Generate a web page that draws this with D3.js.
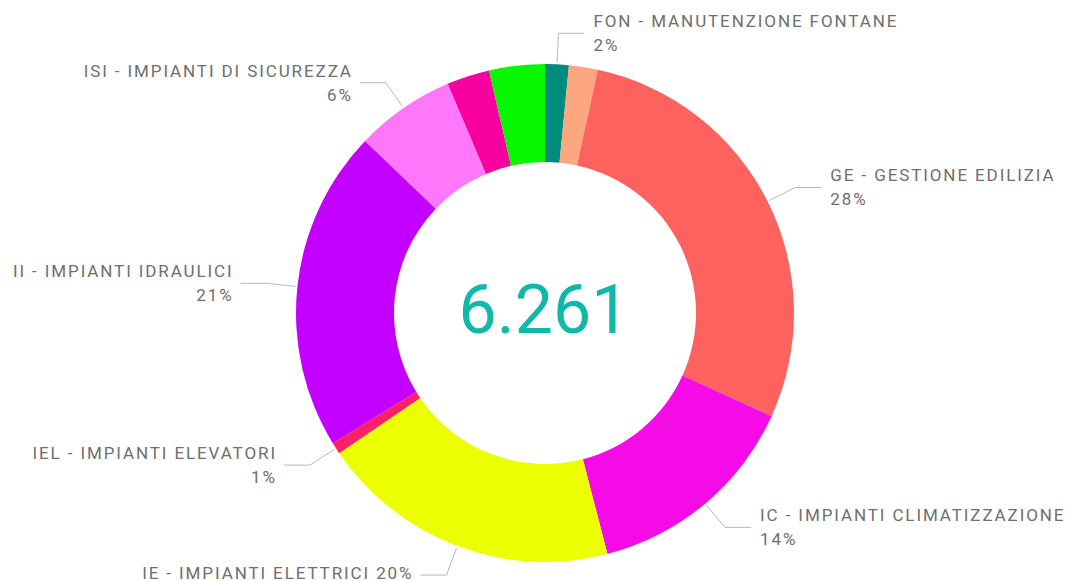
<!DOCTYPE html>
<html>
<head>
<meta charset="utf-8">
<script src="https://cdn.jsdelivr.net/npm/d3@7/dist/d3.min.js"></script>
<style>
  body { margin: 0; background: #fff; }
  #donut text { font-family: Roboto, "Noto Sans", sans-serif; }
</style>
</head>
<body>
<div id="donut"></div>
<script>
// categories, clockwise from 12 o'clock; empty label = slice too small for a label
var categories = ["FON - MANUTENZIONE FONTANE", "", "GE - GESTIONE EDILIZIA", "IC - IMPIANTI CLIMATIZZAZIONE",
                  "IE - IMPIANTI ELETTRICI", "IEL - IMPIANTI ELEVATORI", "II - IMPIANTI IDRAULICI",
                  "ISI - IMPIANTI DI SICUREZZA", "", ""];
var values = [96, 117, 1778, 887, 1222, 47, 1309, 405, 174, 226];
var colors = ["#008b7d", "#fda680", "#fd625e", "#f40be6", "#ebff00", "#fe2067", "#c300ff",
              "#ff77fb", "#f7009f", "#08f700"];

var width = 1067, height = 581;
var cx = 545, cy = 313;
var outerR = 249, innerR = 151;

var svg = d3.select("#donut")
    .append("svg")
    .attr("width", width)
    .attr("height", height);

var g = svg.append("g")
    .attr("transform", "translate(" + cx + "," + cy + ")");

var rows = categories.map(function(c, i) { return { name: c, value: values[i], color: colors[i] }; });
var total = d3.sum(values);

var pie = d3.pie()
    .sort(null)
    .value(function(d) { return d.value; });

var arc = d3.arc()
    .innerRadius(innerR)
    .outerRadius(outerR);

var arcs = pie(rows);

g.selectAll("path.slice")
    .data(arcs)
    .enter()
    .append("path")
    .attr("class", "slice")
    .attr("d", arc)
    .attr("fill", function(d) { return d.data.color; });

// point at radius r along the middle of a slice
function polar(r, a) {
    return [r * Math.sin(a), -r * Math.cos(a)];
}

var lineLen = 26, textGap = 9;

var labelled = arcs.filter(function(d) { return d.data.name !== ""; });

labelled.forEach(function(d) {
    var mid = (d.startAngle + d.endAngle) / 2;
    var right = mid < Math.PI;
    var p0 = polar(outerR + 2, mid);
    var p1 = polar(outerR + 31, mid);
    var p2 = [p1[0] + (right ? lineLen : -lineLen), p1[1]];

    g.append("polyline")
        .attr("points", [p0, p1, p2].map(function(p) { return p.join(","); }).join(" "))
        .attr("fill", "none")
        .attr("stroke", "#b8b8b8")
        .attr("stroke-width", 1);

    var pct = Math.round(d.data.value / total * 100) + "%";
    // letter-spacing trails the last glyph, so pull end-anchored text back a bit
    var tx = p2[0] + (right ? textGap : -textGap + 2);
    var t = g.append("text")
        .attr("x", tx)
        .attr("text-anchor", right ? "start" : "end")
        .attr("fill", "#6e6e6e")
        .style("font-size", "17px")
        .style("letter-spacing", "1.9px");

    // near the bottom edge the label goes on a single line
    if (cy + p1[1] + 20 > height) {
        t.attr("y", p1[1] + 4).text(d.data.name + " " + pct);
    } else {
        t.append("tspan").attr("x", tx).attr("y", p1[1] - 6).text(d.data.name);
        t.append("tspan").attr("x", tx).attr("y", p1[1] + 18).text(pct);
    }
});

// total in the hole
var itFormat = d3.formatLocale({ decimal: ",", thousands: ".", grouping: [3], currency: ["€", ""] }).format(",");

g.append("text")
    .attr("x", -1)
    .attr("y", 20)
    .attr("text-anchor", "middle")
    .attr("fill", "#10b8a8")
    .style("font-size", "68px")
    .text(itFormat(total));
</script>
</body>
</html>
